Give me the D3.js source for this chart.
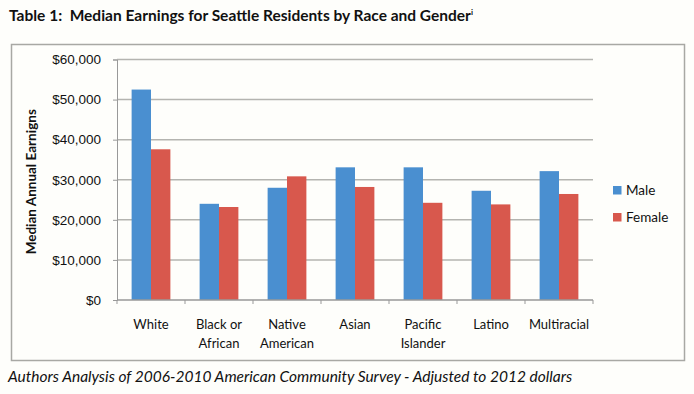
<!DOCTYPE html>
<html>
<head>
<meta charset="utf-8">
<script src="https://cdn.jsdelivr.net/npm/d3@7"></script>
<style>
  body { margin: 0; background: #fefefb; }
  svg { display: block; font-family: Lato, "Open Sans", sans-serif; }
</style>
</head>
<body>
<div id="chart"></div>
<script>
const categories = ['White', 'Black or African', 'Native American', 'Asian', 'Pacific Islander', 'Latino', 'Multiracial'];
const categoryLines = [['White'], ['Black or', 'African'], ['Native', 'American'], ['Asian'], ['Pacific', 'Islander'], ['Latino'], ['Multiracial']];
const series = ['Male', 'Female'];
const male = [52500, 24000, 28000, 33100, 33100, 27250, 32150];
const female = [37600, 23200, 30850, 28200, 24250, 23850, 26450];
const yTicks = [0, 10000, 20000, 30000, 40000, 50000, 60000];

const colors = { Male: '#4a8fd0', Female: '#d8584d' };

const width = 694;
const height = 394;
const plot = { left: 117, right: 593, top: 59.5, bottom: 300 };

const svg = d3.select('#chart').append('svg')
  .attr('width', width)
  .attr('height', height);

svg.append('rect')
  .attr('width', width).attr('height', height)
  .attr('fill', '#fefefb');

// title
const title = svg.append('text')
  .attr('x', 9).attr('y', 21)
  .style('font-size', '15.5px')
  .style('font-weight', 'bold')
  .style('white-space', 'pre')
  .attr('fill', '#111');
title.append('tspan').text('Table 1:  Median Earnings for Seattle Residents by Race and Gender');
title.append('tspan').attr('dy', -6).style('font-size', '8px').text('i');

// chart frame
svg.append('rect')
  .attr('x', 11.5).attr('y', 44.5)
  .attr('width', 673).attr('height', 316)
  .attr('fill', '#fefefb')
  .attr('stroke', '#a8a8a4')
  .attr('stroke-width', 1.5);

const x0 = d3.scaleBand()
  .domain(categories)
  .range([plot.left, plot.right])
  .paddingInner(0.43)
  .paddingOuter(0.215);

const x1 = d3.scaleBand()
  .domain(series)
  .range([0, x0.bandwidth()]);

const y = d3.scaleLinear()
  .domain([0, 60000])
  .range([plot.bottom, plot.top]);

// gridlines
svg.append('g')
  .selectAll('line')
  .data(yTicks.filter(d => d > 0))
  .enter().append('line')
  .attr('x1', plot.left).attr('x2', plot.right)
  .attr('y1', d => y(d)).attr('y2', d => y(d))
  .attr('stroke', '#b4b4b0')
  .attr('stroke-width', 1.5);

// y axis
const yAxis = svg.append('g')
  .attr('transform', `translate(${plot.left},0)`)
  .call(d3.axisLeft(y).tickValues(yTicks).tickSize(4).tickPadding(12)
    .tickFormat(d => '$' + d3.format(',')(d)));
yAxis.select('.domain').attr('stroke', '#999');
yAxis.selectAll('.tick line').attr('stroke', '#999');
yAxis.selectAll('text')
  .style('font-size', '13.5px')
  .attr('fill', '#111');

svg.append('text')
  .attr('transform', `translate(36,${(plot.top + plot.bottom) / 2 + 2}) rotate(-90)`)
  .attr('text-anchor', 'middle')
  .style('font-size', '13.5px')
  .style('font-weight', 'bold')
  .attr('fill', '#111')
  .text('Median Annual Earnigns');

// bars
const rows = categories.map((c, i) => ({ cat: c, Male: male[i], Female: female[i] }));

const groups = svg.append('g')
  .selectAll('g')
  .data(rows)
  .enter().append('g')
  .attr('transform', d => `translate(${x0(d.cat)},0)`);

groups.selectAll('rect')
  .data(d => series.map(s => ({ key: s, value: d[s] })))
  .enter().append('rect')
  .attr('x', d => x1(d.key))
  .attr('y', d => y(d.value))
  .attr('width', x1.bandwidth())
  .attr('height', d => y(0) - y(d.value))
  .attr('fill', d => colors[d.key]);

// x axis
const step = x0.step();
const xTicks = d3.range(categories.length + 1).map(i => plot.left + i * step);
svg.append('line')
  .attr('x1', plot.left).attr('x2', plot.right)
  .attr('y1', plot.bottom).attr('y2', plot.bottom)
  .attr('stroke', '#999').attr('stroke-width', 1.5);
svg.append('g')
  .selectAll('line')
  .data(xTicks)
  .enter().append('line')
  .attr('x1', d => d).attr('x2', d => d)
  .attr('y1', plot.bottom).attr('y2', plot.bottom + 4)
  .attr('stroke', '#999');

const labels = svg.append('g')
  .selectAll('text')
  .data(categories)
  .enter().append('text')
  .attr('x', d => x0(d) + x0.bandwidth() / 2)
  .attr('y', 329)
  .attr('text-anchor', 'middle')
  .style('font-size', '13px')
  .attr('fill', '#111');
labels.selectAll('tspan')
  .data((d, i) => categoryLines[i])
  .enter().append('tspan')
  .attr('x', function() { return d3.select(this.parentNode).attr('x'); })
  .attr('dy', (d, i) => i === 0 ? 0 : 18.5)
  .text(d => d);

// legend
const legend = svg.append('g')
  .selectAll('g')
  .data(series)
  .enter().append('g')
  .attr('transform', (d, i) => `translate(613,${186 + i * 27})`);
legend.append('rect')
  .attr('width', 8.5).attr('height', 8.5)
  .attr('fill', d => colors[d]);
legend.append('text')
  .attr('x', 13).attr('y', 9)
  .style('font-size', '13.5px')
  .attr('fill', '#111')
  .text(d => d);

// source note
svg.append('text')
  .attr('x', 8).attr('y', 382)
  .style('font-size', '15.5px')
  .style('font-style', 'italic')
  .attr('fill', '#111')
  .text('Authors Analysis of 2006-2010 American Community Survey - Adjusted to 2012 dollars');
</script>
</body>
</html>
